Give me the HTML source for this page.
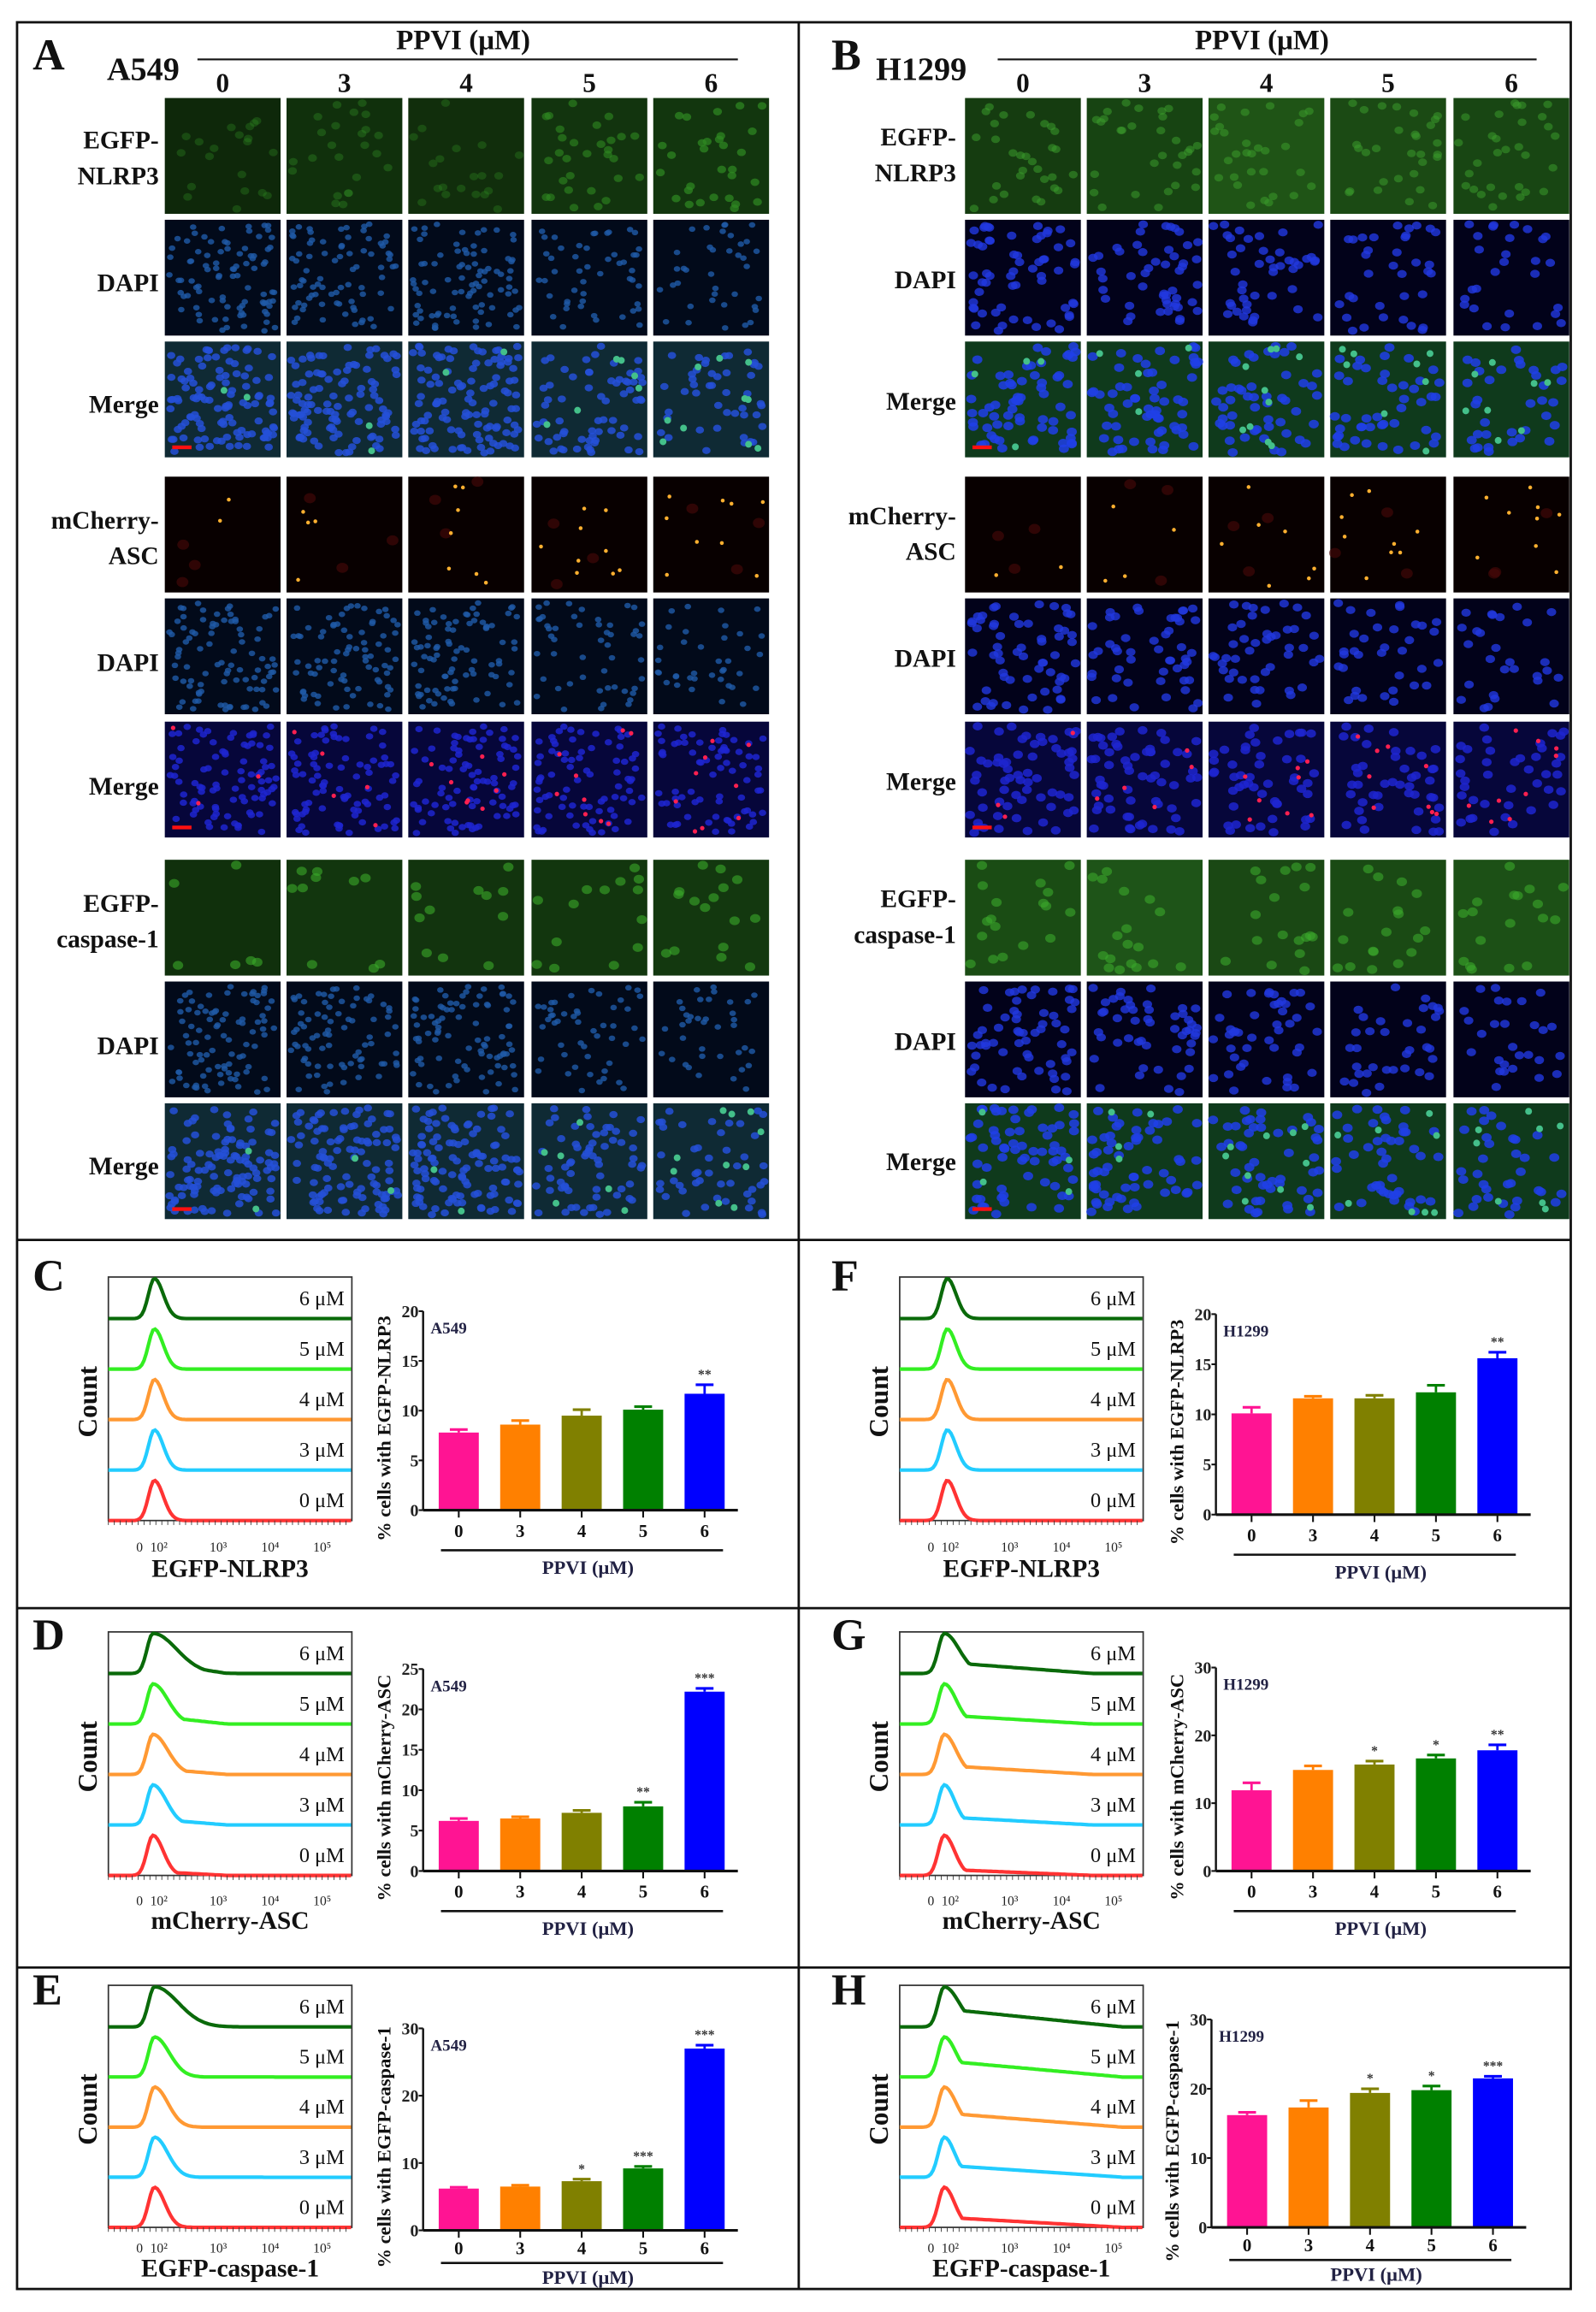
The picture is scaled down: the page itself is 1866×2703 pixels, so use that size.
<!DOCTYPE html>
<html><head><meta charset="utf-8">
<style>
html,body{margin:0;padding:0;background:#fff;}
svg{display:block;}
text{font-family:"Liberation Serif",serif;font-weight:bold;}
</style></head>
<body>
<svg id="fig" width="1866" height="2703" viewBox="0 0 1075 1557" preserveAspectRatio="none" xmlns="http://www.w3.org/2000/svg">
<rect x="0" y="0" width="1075" height="1557" fill="#fff"/>
<g fill="none" stroke="#111" stroke-width="1.6">
<rect x="11.5" y="15" width="1046.5" height="1526.5"/>
<line x1="538" y1="15" x2="538" y2="1541.5"/>
<line x1="11.5" y1="835" x2="1058" y2="835"/>
<line x1="11.5" y1="1083" x2="1058" y2="1083"/>
<line x1="11.5" y1="1325" x2="1058" y2="1325"/>
</g>
<g id="micro"></g>
<g id="charts"></g>
</svg>
<script>
const NS="http://www.w3.org/2000/svg";
const fig=document.getElementById('fig');
const micro=document.getElementById('micro');
const charts=document.getElementById('charts');
function mk(tag,attrs,parent,txt){const e=document.createElementNS(NS,tag);for(const k in attrs)e.setAttribute(k,attrs[k]);if(txt!==undefined)e.textContent=txt;parent.appendChild(e);return e;}

// ---------- chart data ----------
const doses=["0","3","4","5","6"];
const barColors=["#ff1493","#ff8000","#808000","#008000","#0000ff"];
const histColors=["#ff3333","#22ccff","#ff9933","#33ee22","#0a6a0a"];
const histLabels=["0 μM","3 μM","4 μM","5 μM","6 μM"];
const valsC=[7.8,8.6,9.5,10.1,11.7], errC=[0.3,0.4,0.6,0.3,0.9], starC=["","","","","**"];
const valsD=[6.2,6.5,7.2,8.0,22.2], errD=[0.3,0.2,0.3,0.5,0.4], starD=["","","","**","***"];
const valsE=[6.2,6.5,7.3,9.2,27.0], errE=[0.2,0.2,0.3,0.3,0.5], starE=["","","*","***","***"];
const valsF=[10.1,11.6,11.6,12.2,15.6], errF=[0.6,0.2,0.3,0.7,0.6], starF=["","","","","**"];
const valsG=[11.9,14.9,15.7,16.6,17.8], errG=[1.1,0.6,0.5,0.5,0.8], starG=["","","*","*","**"];
const valsH=[16.2,17.3,19.4,19.8,21.5], errH=[0.4,1.0,0.6,0.6,0.3], starH=["","","*","*","***"];
const ticks20=[0,5,10,15,20], ticks25=[0,5,10,15,20,25], ticks30=[0,10,20,30];
const histTicks=["0","10²","10³","10⁴","10⁵"];

function barChart(cfg){
  const g=mk('g',{},charts);
  
  
  const ax=cfg.ax, z=cfg.zero, top=cfg.top, ymax=cfg.ymax, tight=cfg.tight;
  const yS=v=>z-(v/ymax)*(z-top);
  const xS=i=>ax+24+i*41.4;
  const bw=27;
  cfg.vals.forEach((v,i)=>{
    const r=mk('rect',{x:xS(i)-bw/2,y:yS(v),width:bw,height:z-yS(v),fill:barColors[i]},g);
    
    
    const e=cfg.errs[i];
    mk('line',{x1:xS(i),y1:yS(v),x2:xS(i),y2:yS(v+e),stroke:barColors[i],'stroke-width':1.6},g);
    mk('line',{x1:xS(i)-6,y1:yS(v+e),x2:xS(i)+6,y2:yS(v+e),stroke:barColors[i],'stroke-width':1.8},g);
    if(cfg.stars[i]){const s=mk('text',{x:xS(i),y:yS(v+e)-4,'font-size':9,'text-anchor':'middle',fill:'#333'},g,cfg.stars[i]);
      
      }
    mk('line',{x1:xS(i),y1:z,x2:xS(i),y2:z+5,stroke:'#111','stroke-width':1.2},g);
    const t=mk('text',{x:xS(i),y:z+(tight?16:18),'font-size':12,'text-anchor':'middle',fill:'#111'},g,doses[i]);
    
    
  });
  mk('line',{x1:ax,y1:top,x2:ax,y2:z,stroke:'#111','stroke-width':1.4},g);
  mk('line',{x1:ax,y1:z,x2:ax+212,y2:z,stroke:'#111','stroke-width':1.8},g);
  cfg.ticks.forEach(t=>{
    mk('line',{x1:ax-3,y1:yS(t),x2:ax,y2:yS(t),stroke:'#111','stroke-width':1.2},g);
    const l=mk('text',{x:ax-3,y:yS(t)+4,'font-size':11.5,'text-anchor':'end',fill:'#222'},g,String(t));
    
    
  });
  const cl=mk('text',{x:ax+5,y:top+15,'font-size':11,fill:'#222244'},g,cfg.cell);
  
  
  const ul=tight?22:27, tl=tight?36:43;
  mk('line',{x1:ax+12,y1:z+ul,x2:ax+202,y2:z+ul,stroke:'#111','stroke-width':1.5},g);
  const xl=mk('text',{x:ax+111,y:z+tl,'font-size':13,'text-anchor':'middle',fill:'#222244'},g,'PPVI (μM)');
  
  
  const cy=(top+z)/2+12;
  const yl=mk('text',{x:0,y:0,'font-size':13,'text-anchor':'middle',fill:'#111',transform:`translate(${ax-22},${cy}) rotate(-90)`},g,cfg.title);
  
  
}

function hist(cfg){
  const g=mk('g',{},charts);
  
  
  const x0=cfg.x0,y0=cfg.y0,x1=cfg.x1,y1=cfg.y1;
  mk('rect',{x:x0,y:y0,width:x1-x0,height:y1-y0,fill:'none',stroke:'#333','stroke-width':1},g);
  const lane=(y1-y0-28)/4;
  for(let i=0;i<5;i++){
    const base=y1-i*lane;
    const w=cfg.widths[i], tail=cfg.tails[i];
    let d='';
    for(let x=x0;x<=x1;x+=1.5){
      const dx=x-(x0+cfg.peak);
      const s=dx<0?4:w;
      let h=Math.exp(-(dx*dx)/(2*s*s));
      if(dx>0 && x<x0+cfg.tailEnd) h=Math.max(h,tail*(1-(dx/(cfg.tailEnd-cfg.peak))));
      const yy=base-h*27;
      d+=(d?'L':'M')+x.toFixed(1)+','+yy.toFixed(1);
    }
    const p=mk('path',{d:d,fill:'none',stroke:histColors[i],'stroke-width':2.4},g);
    
    
    const lb=mk('text',{x:x1-5,y:base-9,'font-size':14,'text-anchor':'end',fill:'#111',style:'font-weight:normal'},g,histLabels[i]);
    
    
  }
  for(let x=x0;x<x1;x+=4){mk('line',{x1:x,y1:y1,x2:x,y2:y1+3,stroke:'#333','stroke-width':0.5},g);}
  const tx=[21,34,74,109,144];
  histTicks.forEach((t,i)=>{mk('text',{x:x0+tx[i],y:y1+cfg.tk,'font-size':9,'text-anchor':'middle',style:'font-weight:normal',fill:'#222'},g,t);});
  const xt=mk('text',{x:(x0+x1)/2,y:y1+cfg.tt,'font-size':17,'text-anchor':'middle',fill:'#111'},g,cfg.xtitle);
  
  
  const ct=mk('text',{x:0,y:0,'font-size':18,'text-anchor':'middle',fill:'#111',transform:`translate(${x0-8},${(y0+y1)/2+2}) rotate(-90)`},g,'Count');
  
  
}

const narrow=[6,6,6,6,6], mid=[7,7,8,8,10];
hist({id:'c',x0:73,y0:860,x1:237,y1:1024,peak:31,widths:narrow,tails:[0,0,0,0,0],tailEnd:60,xtitle:'EGFP-NLRP3',tk:21,tt:38});
hist({id:'f',x0:606,y0:860,x1:770,y1:1024,peak:32,widths:narrow,tails:[0,0,0,0,0],tailEnd:60,xtitle:'EGFP-NLRP3',tk:21,tt:38});
hist({id:'d',x0:73,y0:1099,x1:237,y1:1263,peak:30,widths:[7,9,10,10,16],tails:[0.1,0.15,0.15,0.2,0.3],tailEnd:80,xtitle:'mCherry-ASC',tk:20,tt:36});
hist({id:'g',x0:606,y0:1099,x1:770,y1:1263,peak:30,widths:mid,tails:[0.15,0.2,0.22,0.22,0.28],tailEnd:130,xtitle:'mCherry-ASC',tk:20,tt:36});
hist({id:'e',x0:73,y0:1337,x1:237,y1:1500,peak:31,widths:[7,9,9,10,16],tails:[0,0,0,0,0],tailEnd:60,xtitle:'EGFP-caspase-1',tk:17,tt:33});
hist({id:'h',x0:606,y0:1337,x1:770,y1:1500,peak:30,widths:mid,tails:[0.25,0.3,0.35,0.4,0.45],tailEnd:150,xtitle:'EGFP-caspase-1',tk:17,tt:33});

barChart({id:'c',ax:285,zero:1017,top:883,ymax:20,ticks:ticks20,vals:valsC,errs:errC,stars:starC,cell:'A549',title:'% cells with EGFP-NLRP3'});
barChart({id:'f',ax:819,zero:1020,top:885,ymax:20,ticks:ticks20,vals:valsF,errs:errF,stars:starF,cell:'H1299',title:'% cells with EGFP-NLRP3'});
barChart({id:'d',ax:285,zero:1260,top:1124,ymax:25,ticks:ticks25,vals:valsD,errs:errD,stars:starD,cell:'A549',title:'% cells with mCherry-ASC'});
barChart({id:'g',ax:819,zero:1260,top:1123,ymax:30,ticks:ticks30,vals:valsG,errs:errG,stars:starG,cell:'H1299',title:'% cells with mCherry-ASC'});
barChart({id:'e',ax:285,zero:1502,top:1366,ymax:30,ticks:ticks30,vals:valsE,errs:errE,stars:starE,cell:'A549',title:'% cells with EGFP-caspase-1',tight:true});
barChart({id:'h',ax:816,zero:1500,top:1360,ymax:30,ticks:ticks30,vals:valsH,errs:errH,stars:starH,cell:'H1299',title:'% cells with EGFP-caspase-1',tight:true});

[['A',22,47],['B',560,47],['C',22,869],['D',22,1111],['E',22,1350],['F',560,869],['G',560,1111],['H',560,1350]].forEach(p=>{
  const t=mk('text',{x:p[1],y:p[2],'font-size':30,fill:'#111'},fig,p[0]);
  
  
});

// ---------- microscopy ----------
let seed=12345;function rnd(){seed=(seed*1103515245+12345)&0x7fffffff;return seed/0x7fffffff;}
const rowsY=[66,148,230,321,403,486,579,661,743];
const colsA=[111,193,275,358,440], colsB=[650,732,814,896,979];
const tileW=78,tileH=78;
const rowKind=['gfp','dapi','mergeG','cherry','dapi','mergeR','gfp2','dapi','mergeG'];
function tile(x,y,kind,ci,side){
  const g=mk('g',{},micro);
  
  
  const B=side==='B';
  let bg,dot,n,r,dot2=null,n2=0,op=0.85,r2=1.6;
  if(kind==='gfp'){bg=B?['#153c10','#174412','#1f5416','#1b4a14','#184613'][ci]:['#0e280a','#10300c','#112e0c','#12340e','#12360e'][ci];dot=B?'#3a9a2c':'#2f8a22';n=B?30:[20,24,20,30,30][ci];r=3;op=B?0.55:[0.35,0.4,0.35,0.6,0.7][ci];}
  else if(kind==='gfp2'){bg=B?['#1a4c14','#1e5418','#1a4814','#1a4a14','#1c5016'][ci]:['#10300c','#12360e','#12340e','#12360e','#13380f'][ci];dot=B?'#3aa82c':'#3aaa2a';n=B?18:[6,10,12,14,16][ci];r=3.5;op=0.6;}
  else if(kind==='dapi'){bg=B?'#02021a':'#020a1a';dot=B?'#2238e0':'#1f5aa8';n=B?[60,50,45,35,28][ci]:[90,80,85,50,38][ci];r=B?3.2:2.2;op=0.8;}
  else if(kind==='mergeG'){bg=B?'#0f3a1c':'#0f2a34';dot=B?'#2040e8':'#2450d8';n=B?[65,60,50,45,35][ci]:[110,105,110,65,45][ci];r=B?3.4:2.8;dot2='#44c08a';n2=B?[4,4,10,8,8][ci]:[2,2,2,6,10][ci];r2=2.3;}
  else if(kind==='cherry'){bg='#080000';dot='#4a0808';n=3;r=4;op=0.6;dot2='#ffb030';n2=[2,4,7,9,9][ci];r2=1.3;}
  else {bg='#06063a';dot='#1e26d0';n=B?[65,60,50,45,40][ci]:[90,85,85,80,75][ci];r=B?3.3:2.5;dot2='#ff2050';n2=[3,5,8,9,9][ci];r2=1.5;}
  mk('rect',{x:x,y:y,width:tileW,height:tileH,fill:bg},g);
  for(let k=0;k<n;k++){mk('ellipse',{cx:(x+3+rnd()*(tileW-6)).toFixed(1),cy:(y+3+rnd()*(tileH-6)).toFixed(1),rx:r,ry:r*0.85,fill:dot,opacity:op},g);}
  for(let k=0;k<n2;k++){mk('circle',{cx:(x+4+rnd()*(tileW-8)).toFixed(1),cy:(y+4+rnd()*(tileH-8)).toFixed(1),r:r2,fill:dot2},g);}
  if((kind==='mergeG'||kind==='mergeR')&&ci===0){mk('rect',{x:x+5,y:y+70,width:13,height:2.5,fill:'#ff1010'},g);}
}
rowsY.forEach((y,ri)=>{
  colsA.forEach((x,ci)=>tile(x,y,rowKind[ri],ci,'A'));
  colsB.forEach((x,ci)=>tile(x,y,rowKind[ri],ci,'B'));
});
const labA=[['EGFP-',100],['NLRP3',124],['DAPI',196],['Merge',278],['mCherry-',356],['ASC',380],['DAPI',452],['Merge',535],['EGFP-',614],['caspase-1',638],['DAPI',710],['Merge',791]];
const labB=[['EGFP-',98],['NLRP3',122],['DAPI',194],['Merge',276],['mCherry-',353],['ASC',377],['DAPI',449],['Merge',532],['EGFP-',611],['caspase-1',635],['DAPI',707],['Merge',788]];
labA.forEach(l=>{const t=mk('text',{x:107,y:l[1],'font-size':17,'text-anchor':'end',fill:'#111'},micro,l[0]);});
labB.forEach(l=>{const t=mk('text',{x:644,y:l[1],'font-size':17,'text-anchor':'end',fill:'#111'},micro,l[0]);});
[[312,133,497,colsA,'A549',72],[850,672,1035,colsB,'H1299',590]].forEach(h=>{
  const t=mk('text',{x:h[0],y:33,'font-size':19,'text-anchor':'middle',fill:'#111'},micro,'PPVI (μM)');
  
  
  mk('line',{x1:h[1],y1:40,x2:h[2],y2:40,stroke:'#111','stroke-width':1.2},micro);
  h[3].forEach((x,i)=>{const d=mk('text',{x:x+39,y:62,'font-size':18,'text-anchor':'middle',fill:'#111'},micro,doses[i]);});
  const c=mk('text',{x:h[5],y:54,'font-size':22,fill:'#111'},micro,h[4]);
  
  
});
</script>
</body></html>
